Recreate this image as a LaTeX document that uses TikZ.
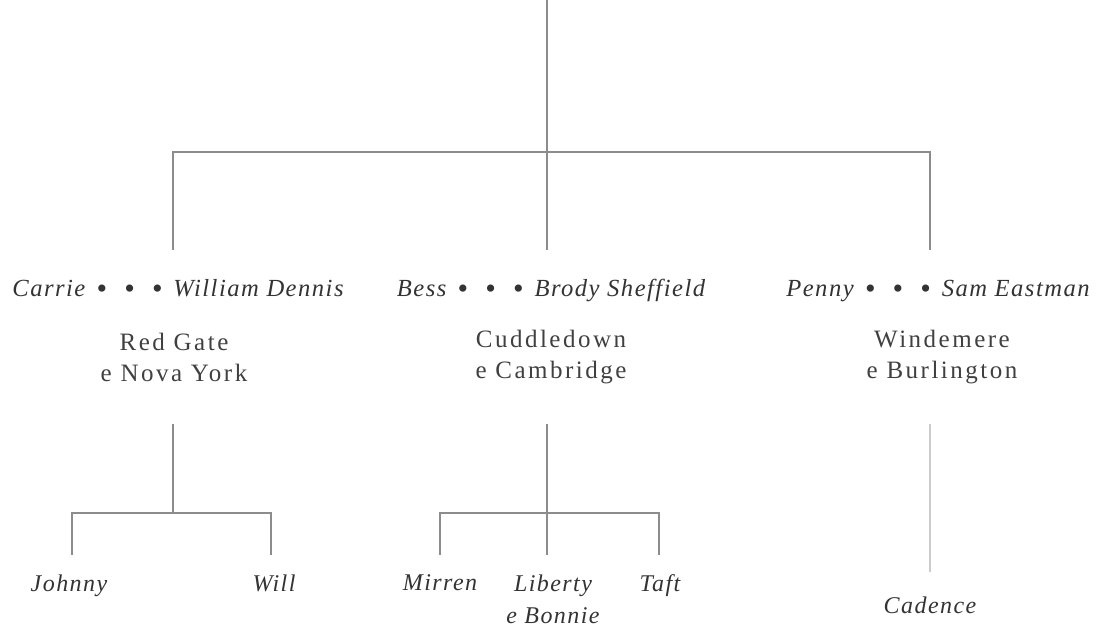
\documentclass[tikz,border=0pt]{standalone}
\usepackage{fontspec}
\setmainfont{Liberation Serif}
\newfontfamily\wideit[LetterSpace=6]{Liberation Serif}
\newfontfamily\widerm[LetterSpace=10]{Liberation Serif}
\newcommand{\bigdot}{\raisebox{-0.6pt}{\fontsize{15}{15}\selectfont\textbullet}}
\newcommand{\tridot}{\hspace{0.45em}\bigdot\hspace{0.7em}\bigdot\hspace{0.7em}\bigdot\hspace{0.45em}}
\begin{document}
\begin{tikzpicture}[x=0.5pt,y=-0.5pt,
  line/.style={draw=black!45,line width=0.9pt},
  faint/.style={draw=black!20,line width=1.1pt},
  couple/.style={font=\fontsize{12.3}{13}\wideit\itshape,text=black!80,inner sep=0pt,anchor=base},
  place/.style={font=\fontsize{12.5}{15.5}\widerm,text=black!75,align=center,inner sep=0pt},
  child/.style={font=\fontsize{12}{16}\wideit\itshape,text=black!80,align=center,inner sep=0pt,anchor=north}]
\useasboundingbox (0,0) rectangle (1106,630);
% top structure
\coordinate (root) at (547,0);
\coordinate (bar) at (547,152);
\coordinate (barL) at (173,152);
\coordinate (barR) at (930,152);
\coordinate (dL) at (173,250);
\coordinate (dM) at (547,250);
\coordinate (dR) at (930,250);
\draw[line] (root) -- (dM);
\draw[line] (dL) -- (barL) -- (barR) -- (dR);
% couples
\node[couple] (c1) at (178,297) {Carrie\tridot William Dennis};
\node[couple] (c2) at (551,297) {Bess\tridot Brody Sheffield};
\node[couple] (c3) at (938,297) {Penny\tridot Sam Eastman};
\node[place] (p1) at (174,357) {Red Gate\\e Nova York};
\node[place] (p2) at (551,357) {Cuddledown\\e Cambridge};
\node[place] (p3) at (942,357) {Windemere\\e Burlington};
% left family
\coordinate (l0) at (173,424);
\coordinate (lj) at (173,513);
\coordinate (lja) at (72,513);
\coordinate (ljb) at (271,513);
\coordinate (la) at (72,555);
\coordinate (lb) at (271,555);
\draw[line] (l0) -- (lj);
\draw[line] (la) -- (lja) -- (ljb) -- (lb);
\node[child] (k1) at (69,574) {Johnny};
\node[child] (k2) at (274,574) {Will};
% middle family
\coordinate (m0) at (547,424);
\coordinate (mja) at (440,513);
\coordinate (mjb) at (659,513);
\coordinate (ma) at (440,555);
\coordinate (mm) at (547,555);
\coordinate (mb) at (659,555);
\draw[line] (m0) -- (mm);
\draw[line] (ma) -- (mja) -- (mjb) -- (mb);
\node[child] (k3) at (440,574) {Mirren};
\node[child] (k4) at (553,574) {Liberty\\e Bonnie};
\node[child] (k5) at (660,574) {Taft};
% right family
\coordinate (r0) at (930,424);
\coordinate (r1) at (930,572);
\draw[faint] (r0) -- (r1);
\node[child] (k6) at (930,596) {Cadence};
\end{tikzpicture}
\end{document}
